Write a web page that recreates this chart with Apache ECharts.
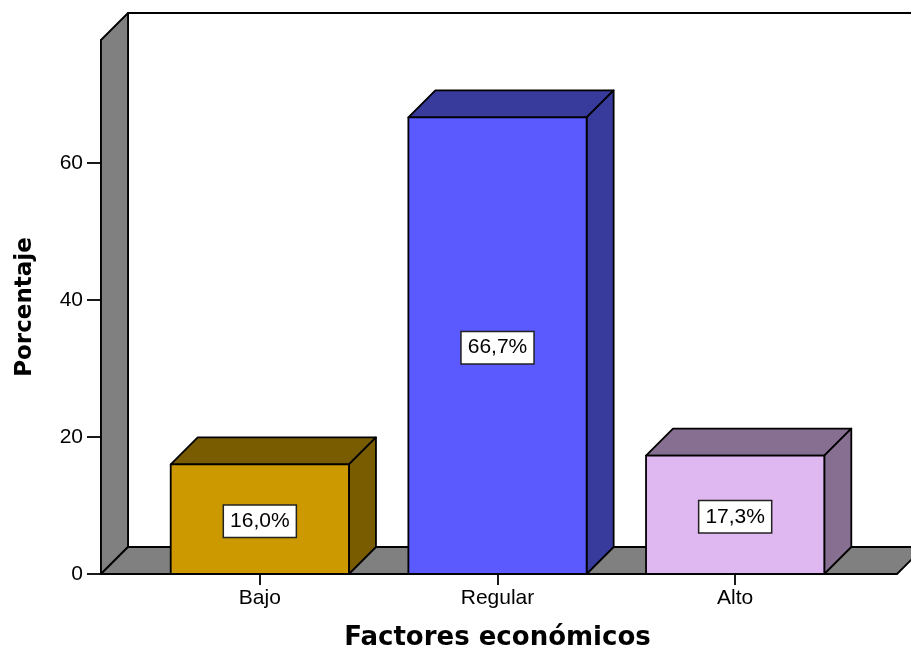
<!DOCTYPE html>
<html>
<head>
    <meta charset="utf-8">
    <script src="https://cdn.jsdelivr.net/npm/echarts@6.0.0/dist/echarts.min.js"></script>
    <style>
        html, body { margin: 0; padding: 0; background: #fff; }
        #chart { width: 911px; height: 651px; }
    </style>
</head>
<body>
    <div id="chart"></div>
    <script type="text/javascript">
        // datos
        var categorias = ['Bajo', 'Regular', 'Alto'];
        var porcentajes = [16.0, 66.7, 17.3];
        var marcasY = [0, 20, 40, 60];
        var maxY = 78;

        // colores estilo SPSS (cara frontal / caras en sombra)
        var colorFrente = ['#CC9900', '#5A5AFF', '#DFB8F1'];
        var colorSombra = ['#7A5C00', '#383A9C', '#866F90'];
        var gris = '#808080';
        var prof = 27;   // profundidad del efecto 3D, px

        function fmt(v) {
            return v.toFixed(1).replace('.', ',') + '%';
        }

        function trazo() {
            return { stroke: '#000', lineWidth: 1.8, lineJoin: 'round' };
        }

        // pared izquierda, pared del fondo y piso
        function renderMarco(params, api) {
            var cs = params.coordSys;
            var x0 = cs.x - 40, x1 = cs.x + cs.width + 43;
            var yb = api.coord([0, 0])[1];
            var yt = api.coord([0, maxY])[1];
            var fondo = { type: 'polygon', shape: { points: [
                [x0 + prof, yb - prof], [x0 + prof, yt - prof], [x1 + prof, yt - prof], [x1 + prof, yb - prof]
            ]}, style: Object.assign({ fill: '#fff' }, trazo()) };
            var pared = { type: 'polygon', shape: { points: [
                [x0, yb], [x0, yt], [x0 + prof, yt - prof], [x0 + prof, yb - prof]
            ]}, style: Object.assign({ fill: gris }, trazo()) };
            var piso = { type: 'polygon', shape: { points: [
                [x0, yb], [x0 + prof, yb - prof], [x1 + prof, yb - prof], [x1, yb]
            ]}, style: Object.assign({ fill: gris }, trazo()) };
            return { type: 'group', children: [fondo, pared, piso] };
        }

        function renderBarra(params, api) {
            var i = api.value(0);
            var v = api.value(1);
            var base = api.coord([i, 0]);
            var tope = api.coord([i, v]);
            var w = api.size([1, 0])[0] * 0.75;
            var xl = base[0] - w / 2, xr = base[0] + w / 2;
            var y0 = base[1], y1 = tope[1];
            var arriba = { type: 'polygon', shape: { points: [
                [xl, y1], [xl + prof, y1 - prof], [xr + prof, y1 - prof], [xr, y1]
            ]}, style: Object.assign({ fill: colorSombra[i] }, trazo()) };
            var lado = { type: 'polygon', shape: { points: [
                [xr, y1], [xr + prof, y1 - prof], [xr + prof, y0 - prof], [xr, y0]
            ]}, style: Object.assign({ fill: colorSombra[i] }, trazo()) };
            var frente = { type: 'rect', shape: { x: xl, y: y1, width: w, height: y0 - y1 },
                style: Object.assign({ fill: colorFrente[i] }, trazo()) };
            var etiqueta = { type: 'text', x: base[0], y: (y0 + y1) / 2 + 2, style: {
                text: fmt(v), fontFamily: 'Liberation Sans', fontSize: 21, fill: '#000',
                align: 'center', verticalAlign: 'middle',
                backgroundColor: '#fff', borderColor: '#222', borderWidth: 1.5,
                padding: [5, 6, 5, 6]
            }};
            return { type: 'group', children: [arriba, lado, frente, etiqueta] };
        }

        var option = {
            backgroundColor: '#fff',
            animation: false,
            grid: { left: 141, right: 57, top: 40, bottom: 77, outerBoundsMode: 'none', containLabel: false },
            xAxis: {
                type: 'category',
                data: categorias,
                name: 'Factores económicos',
                nameLocation: 'middle',
                nameGap: 51,
                nameTextStyle: { fontFamily: 'DejaVu Sans', fontWeight: 'bold', fontSize: 26, color: '#000' },
                axisLine: { show: true, lineStyle: { color: '#000', width: 1.8 } },
                axisTick: { show: true, alignWithLabel: true, length: 11, lineStyle: { color: '#000', width: 1.8 } },
                axisLabel: { fontFamily: 'Liberation Sans', fontSize: 21, color: '#000', margin: 14 }
            },
            yAxis: {
                type: 'value',
                min: 0,
                max: maxY,
                interval: 20,
                offset: 40,
                name: 'Porcentaje',
                nameLocation: 'middle',
                nameGap: 64,
                nameTextStyle: { fontFamily: 'DejaVu Sans', fontWeight: 'bold', fontSize: 23, color: '#000' },
                splitLine: { show: false },
                axisLine: { show: true, lineStyle: { color: '#000', width: 1.8 } },
                axisTick: { show: true, length: 14, customValues: marcasY, lineStyle: { color: '#000', width: 1.8 } },
                axisLabel: { fontFamily: 'Liberation Sans', fontSize: 21, color: '#000', margin: 18, customValues: marcasY }
            },
            series: [
                {
                    type: 'custom',
                    name: 'marco',
                    clip: false,
                    silent: true,
                    z: 1,
                    renderItem: renderMarco,
                    data: [[0, 0]]
                },
                {
                    type: 'custom',
                    name: 'Porcentaje',
                    clip: false,
                    z: 2,
                    encode: { x: 0, y: 1 },
                    renderItem: renderBarra,
                    data: porcentajes.map(function (v, i) { return [i, v]; })
                }
            ]
        };

        var myChart = echarts.init(document.getElementById('chart'));
        myChart.setOption(option);
    </script>
</body>
</html>
